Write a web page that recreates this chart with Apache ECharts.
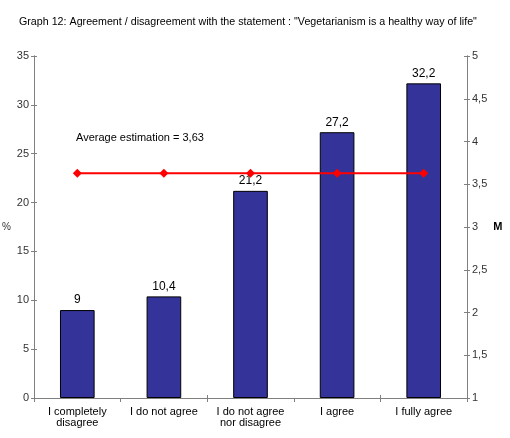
<!DOCTYPE html>
<html>
<head>
<meta charset="utf-8">
<script src="https://cdn.jsdelivr.net/npm/echarts@6/dist/echarts.min.js"></script>
<style>
  html, body { margin: 0; padding: 0; background: #fff; }
  #chart { width: 510px; height: 438px; }
</style>
</head>
<body>
<div id="chart"></div>
<script>
const categories = ['I completely\ndisagree', 'I do not agree', 'I do not agree\nnor disagree', 'I agree', 'I fully agree'];
const percentValues = [9, 10.4, 21.2, 27.2, 32.2];
const averageValues = [3.63, 3.63, 3.63, 3.63, 3.63];
const averageText = 'Average estimation = 3,63';
const titleText = 'Graph 12: Agreement / disagreement with the statement : "Vegetarianism is a healthy way of life"';

const font = 'Liberation Sans, Arial, sans-serif';
const axisGray = '#808080';

function comma(v) {
  return String(v).replace('.', ',');
}

function yAxisPair(pos, min, max, interval, name, nameStyle) {
  const base = {
    type: 'value',
    position: pos,
    min: min,
    max: max,
    interval: interval,
    splitLine: { show: false },
    axisLine: { show: true, lineStyle: { color: axisGray, width: 1 } }
  };
  return [
    Object.assign({}, base, {
      name: name,
      nameLocation: 'middle',
      nameRotate: 0,
      nameGap: pos === 'left' ? 23 : 17,
      nameTextStyle: nameStyle,
      axisTick: { show: true, inside: false, length: 3, lineStyle: { color: axisGray } },
      axisLabel: {
        color: '#333',
        fontFamily: font,
        fontSize: 11,
        margin: 5,
        formatter: comma
      }
    }),
    Object.assign({}, base, {
      axisTick: { show: true, inside: true, length: 3, lineStyle: { color: axisGray } },
      axisLabel: { show: false }
    })
  ];
}

const chart = echarts.init(document.getElementById('chart'));

const leftAxes = yAxisPair('left', 0, 35, 5, '%', { color: '#333', fontFamily: font, fontSize: 10 });
const rightAxes = yAxisPair('right', 1, 5, 0.5, 'M', { color: '#000', fontFamily: font, fontSize: 11, fontWeight: 'bold' });

chart.setOption({
  animation: false,
  backgroundColor: '#fff',
  title: {
    text: titleText,
    left: 14,
    top: 12,
    textStyle: { fontFamily: font, fontSize: 10.7, fontWeight: 'normal', color: '#000' }
  },
  graphic: [{
    type: 'text',
    left: 76,
    top: 132,
    style: { text: averageText, font: '11px ' + font, fill: '#000' }
  }],
  grid: { left: 34, right: 43, top: 56, bottom: 40, outerBoundsMode: 'none', containLabel: false },
  xAxis: [
    {
      type: 'category',
      data: categories,
      axisLine: { lineStyle: { color: axisGray } },
      axisTick: { show: true, inside: false, length: 4, lineStyle: { color: axisGray } },
      axisLabel: { color: '#000', fontFamily: font, fontSize: 11, margin: 8, lineHeight: 11, interval: 0 }
    },
    {
      type: 'category',
      data: categories,
      position: 'bottom',
      axisLine: { lineStyle: { color: axisGray } },
      axisTick: { show: true, inside: true, length: 3, lineStyle: { color: axisGray } },
      axisLabel: { show: false }
    }
  ],
  yAxis: [leftAxes[0], leftAxes[1], rightAxes[0], rightAxes[1]],
  series: [
    {
      type: 'bar',
      data: percentValues,
      xAxisIndex: 0,
      yAxisIndex: 0,
      barWidth: '40%',
      itemStyle: { color: '#333399', borderColor: '#000', borderWidth: 1 },
      label: {
        show: true,
        position: 'top',
        distance: 4,
        color: '#000',
        fontFamily: font,
        fontSize: 12,
        formatter: function (p) { return comma(p.value); }
      }
    },
    {
      type: 'line',
      data: averageValues,
      xAxisIndex: 0,
      yAxisIndex: 2,
      symbol: 'diamond',
      symbolSize: 9,
      lineStyle: { color: '#ff0000', width: 2 },
      itemStyle: { color: '#ff0000' }
    }
  ]
});
</script>
</body>
</html>
